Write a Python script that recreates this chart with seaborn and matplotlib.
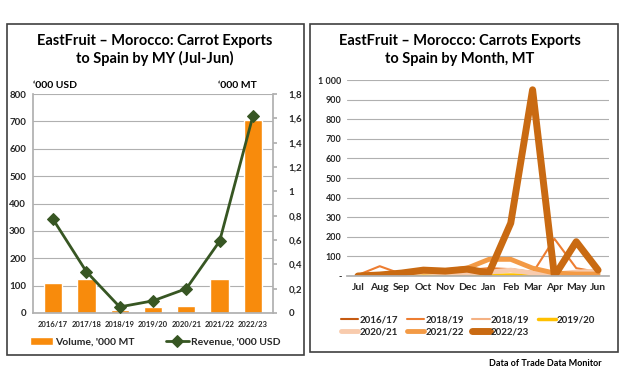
import matplotlib
matplotlib.use('Agg')
import matplotlib.pyplot as plt
import matplotlib.patches as mpatches
import seaborn as sns
import pandas as pd

sns.set_theme(style='white')
plt.rcParams['font.family'] = ['Lato', 'DejaVu Sans']

# left chart: marketing years
years = ['2016/17', '2017/18', '2018/19', '2019/20', '2020/21', '2021/22', '2022/23']
volume = [110, 125, 10, 22, 25, 125, 705]
revenue = [0.77, 0.34, 0.05, 0.10, 0.20, 0.59, 1.62]

# right chart: months
months = ['Jul', 'Aug', 'Sep', 'Oct', 'Nov', 'Dec', 'Jan', 'Feb', 'Mar', 'Apr', 'May', 'Jun']
s_2016 = [0, 5, 10, 15, 10, 20, 30, 35, 20, 10, 10, 10]
s_2018a = [5, 50, 10, 15, 20, 30, 40, 35, 15, 190, 40, 20]
s_2018b = [0, 0, 5, 10, 10, 10, 15, 25, 15, 10, 10, 10]
s_2019 = [0, 0, 2, 3, 2, 2, 3, 5, 3, 2, 2, 2]
s_2020 = [0, 5, 10, 20, 15, 15, 20, 30, 15, 10, 20, 25]
s_2021 = [0, 5, 15, 25, 25, 40, 85, 85, 40, 15, 10, 10]
s_2022 = [0, 5, 15, 30, 25, 35, 15, 270, 950, 0, 175, 30]
series_labels = ['2016/17', '2018/19', '2018/19', '2019/20', '2020/21', '2021/22', '2022/23']
series_vals = [s_2016, s_2018a, s_2018b, s_2019, s_2020, s_2021, s_2022]
series_colors = ['#c55a11', '#ed7d31', '#f4b183', '#ffc000', '#f8cbad', '#f39a45', '#c96a12']
series_widths = [1.5, 1.5, 1.5, 2.5, 3.5, 3.5, 5.0]

fig = plt.figure(figsize=(6.26, 3.91), dpi=100)

# panel frames
for x0, y0, x1, y1 in [(7, 24, 304, 355), (310, 24, 618, 352)]:
    fig.patches.append(mpatches.Rectangle((x0 / 626, 1 - y1 / 391), (x1 - x0) / 626, (y1 - y0) / 391,
                                          transform=fig.transFigure, fill=False,
                                          edgecolor='#404040', linewidth=1.2))

grid_c = '#b0b0b0'
bold = dict(fontweight='bold', color='black')

# ---- left chart ----
ax1 = fig.add_axes([33 / 626, 1 - 313 / 391, 240 / 626, 219 / 391])
df1 = pd.DataFrame({'year': years, 'volume': volume, 'revenue': revenue})
sns.barplot(data=df1, x='year', y='volume', color='#f88b0c', saturation=1, width=0.55, ax=ax1,
            label="Volume, '000 MT")
ax1.set_ylim(0, 800)
ax1.set_yticks(range(0, 801, 100))
ax1.yaxis.grid(True, color=grid_c, linewidth=0.8)
ax1.set_axisbelow(True)
ax1.set_xlabel('')
ax1.set_ylabel('')
for s in ['top', 'right']:
    ax1.spines[s].set_visible(False)
for s in ['left', 'bottom']:
    ax1.spines[s].set_color(grid_c)
ax1.tick_params(axis='y', labelsize=7, pad=5, length=0)
ax1.tick_params(axis='x', labelsize=5.5, length=0, pad=6)
for t in ax1.get_yticklabels() + ax1.get_xticklabels():
    t.set_fontweight('bold')

ax2 = ax1.twinx()
sns.lineplot(data=df1, x='year', y='revenue', color='#375623', linewidth=2, marker='D',
             markersize=6, markeredgecolor='#375623', ax=ax2, label="Revenue, '000 USD")
ax2.set_ylim(0, 1.8)
ax2.set_yticks([0, 0.2, 0.4, 0.6, 0.8, 1, 1.2, 1.4, 1.6, 1.8])
ax2.set_yticklabels(['0', '0,2', '0,4', '0,6', '0,8', '1', '1,2', '1,4', '1,6', '1,8'])
ax2.set_ylabel('')
for s in ['top', 'left', 'bottom']:
    ax2.spines[s].set_visible(False)
ax2.spines['right'].set_color(grid_c)
ax2.tick_params(axis='y', labelsize=7, length=3, color=grid_c, pad=8)
for t in ax2.get_yticklabels():
    t.set_fontweight('bold')
ax2.get_legend().remove()

h1, l1 = ax1.get_legend_handles_labels()
h2, l2 = ax2.get_legend_handles_labels()
if ax1.get_legend():
    ax1.get_legend().remove()
fig.legend(h1 + h2, l1 + l2, loc='center', bbox_to_anchor=(155 / 626, 1 - 342 / 391), ncol=2,
           frameon=False, handlelength=2.2, columnspacing=3, handletextpad=0.2,
           prop=dict(weight='bold', size=7.5))

fig.text(155 / 626, 1 - 50 / 391, 'EastFruit – Morocco: Carrot Exports\nto Spain by MY (Jul-Jun)',
         ha='center', va='center', fontsize=10.5, linespacing=1.3, **bold)
fig.text(33 / 626, 1 - 85 / 391, "‘000 USD", ha='left', va='center', fontsize=7.5, **bold)
fig.text(218 / 626, 1 - 85 / 391, "‘000 MT", ha='left', va='center', fontsize=7.5, **bold)

# ---- right chart ----
ax3 = fig.add_axes([347 / 626, 1 - 276 / 391, 262 / 626, 196 / 391])
for lab, vals, col, lw in zip(series_labels, series_vals, series_colors, series_widths):
    d = pd.DataFrame({'month': months, 'val': vals})
    sns.lineplot(data=d, x='month', y='val', sort=False, color=col, linewidth=lw, ax=ax3,
                 label=lab, solid_capstyle='round', solid_joinstyle='round')
ax3.set_ylim(0, 1000)
ax3.set_yticks(range(0, 1001, 100))
ax3.set_yticklabels(['-'] + [str(v) for v in range(100, 1000, 100)] + ['1 000'])
ax3.set_xlim(-0.5, 11.5)
ax3.yaxis.grid(True, color=grid_c, linewidth=0.8)
ax3.set_axisbelow(True)
ax3.set_xlabel('')
ax3.set_ylabel('')
for s in ['top', 'right', 'left']:
    ax3.spines[s].set_visible(False)
ax3.spines['bottom'].set_color(grid_c)
ax3.tick_params(axis='y', labelsize=6.5, length=0, pad=4)
ax3.tick_params(axis='x', labelsize=7.5, length=0, pad=5)
for t in ax3.get_yticklabels() + ax3.get_xticklabels():
    t.set_fontweight('bold')

h3, l3 = ax3.get_legend_handles_labels()
ax3.get_legend().remove()
# row-major order in a 4-column legend
order = [0, 4, 1, 5, 2, 6, 3]
fig.legend([h3[i] for i in order], [series_labels[i] for i in order], loc='center',
           bbox_to_anchor=(468 / 626, 1 - 326 / 391), ncol=4, frameon=False,
           handlelength=1.8, columnspacing=0.9, handletextpad=0.1, labelspacing=0.3,
           prop=dict(weight='bold', size=7))

fig.text(460 / 626, 1 - 50 / 391, 'EastFruit – Morocco: Carrots Exports\nto Spain by Month, MT',
         ha='center', va='center', fontsize=10.5, linespacing=1.3, **bold)
fig.text(545 / 626, 1 - 363 / 391, 'Data of Trade Data Monitor', ha='center', va='center',
         fontsize=6.5, **bold)

fig.savefig('out.png', dpi=100)
